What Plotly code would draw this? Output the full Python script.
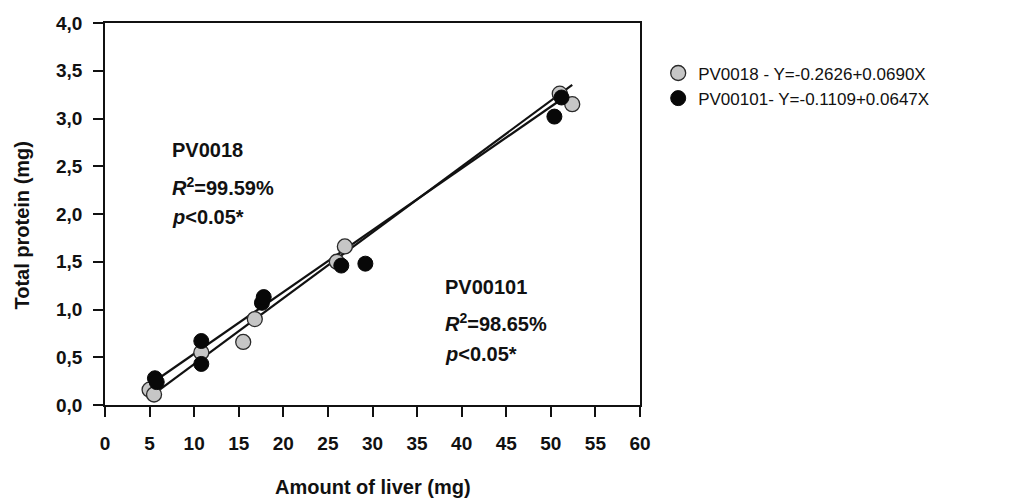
import plotly.graph_objects as go

# Liver amount (mg) vs total protein (mg) for the two strains
pv0018_liver = [5.0, 5.5, 10.8, 15.5, 16.8, 26.0, 26.9, 51.0, 52.4]
pv0018_protein = [0.16, 0.11, 0.55, 0.66, 0.90, 1.50, 1.66, 3.26, 3.15]

pv00101_liver = [5.6, 5.8, 10.8, 10.8, 17.6, 17.8, 26.5, 29.2, 50.4, 51.2]
pv00101_protein = [0.28, 0.24, 0.67, 0.43, 1.07, 1.13, 1.46, 1.48, 3.02, 3.22]

# Regression coefficients (intercept, slope)
pv0018_fit = (-0.2626, 0.0690)
pv00101_fit = (-0.1109, 0.0647)

legend_labels = ["PV0018 - Y=-0.2626+0.0690X", "PV00101- Y=-0.1109+0.0647X"]

x_ticks = list(range(0, 65, 5))
y_ticks = [0, 0.5, 1.0, 1.5, 2.0, 2.5, 3.0, 3.5, 4.0]
y_tick_labels = ["0,0", "0,5", "1,0", "1,5", "2,0", "2,5", "3,0", "3,5", "4,0"]

FONT = "Liberation Sans, Arial, sans-serif"
INK = "#111111"


def fit_line(xs, coef):
    x0, x1 = min(xs), max(xs)
    return [x0, x1], [coef[0] + coef[1] * x0, coef[0] + coef[1] * x1]


fig = go.Figure()

# fitted regression lines
for xs, coef in ((pv0018_liver, pv0018_fit), (pv00101_liver, pv00101_fit)):
    lx, ly = fit_line(xs, coef)
    fig.add_trace(go.Scatter(x=lx, y=ly, mode="lines",
                             line=dict(color=INK, width=2.2),
                             showlegend=False, hoverinfo="skip"))

fig.add_trace(go.Scatter(
    x=pv0018_liver, y=pv0018_protein, mode="markers", name=legend_labels[0],
    marker=dict(size=15, color="#c6c6c6", line=dict(color="#2a2a2a", width=1.3))))
fig.add_trace(go.Scatter(
    x=pv00101_liver, y=pv00101_protein, mode="markers", name=legend_labels[1],
    marker=dict(size=15, color="#080808", line=dict(color="#080808", width=1))))

ann_font = dict(family=FONT, size=20, color=INK)
blocks = [
    (7.3, [2.67, 2.29, 1.97], "PV0018", "99.59%"),
    (37.9, [1.24, 0.86, 0.53], "PV00101", "98.65%"),
]
for bx, ys, name, r2 in blocks:
    texts = [f"<b>{name}</b>",
             f"<b><i>R</i><sup>2</sup>={r2}</b>",
             "<b><i>p</i>&lt;0.05*</b>"]
    for ty, t in zip(ys, texts):
        fig.add_annotation(x=bx, y=ty, xref="x", yref="y", text=t,
                           showarrow=False, xanchor="left", yanchor="middle",
                           font=ann_font)

title_font = dict(family=FONT, size=20, color=INK)
fig.add_annotation(text="<b>Amount of liver (mg)</b>", xref="paper", yref="paper",
                   x=0.5, y=-0.215, xanchor="center", yanchor="middle",
                   showarrow=False, font=title_font)
fig.add_annotation(text="<b>Total protein (mg)</b>", xref="paper", yref="paper",
                   x=-0.155, y=0.47, xanchor="center", yanchor="middle", textangle=-90,
                   showarrow=False, font=title_font)

tick_font = dict(family=FONT, size=19, color=INK)
axis_common = dict(showgrid=False, zeroline=False, showline=True, linecolor=INK,
                   linewidth=1.5, mirror=True, ticks="outside", ticklen=10,
                   tickwidth=1.5, tickcolor=INK, tickfont=tick_font, tickmode="array")

fig.update_layout(
    width=1013, height=502,
    margin=dict(l=105, r=373, t=23, b=97),
    paper_bgcolor="white", plot_bgcolor="white",
    font=dict(family=FONT, color=INK),
    xaxis=dict(range=[0, 60], tickvals=x_ticks,
               ticktext=[f"<b>{v}</b>" for v in x_ticks],
               ticklabelstandoff=10, **axis_common),
    yaxis=dict(range=[0, 4], tickvals=y_ticks,
               ticktext=[f"<b>{t}</b>" for t in y_tick_labels],
               ticklabelstandoff=7, **axis_common),
    legend=dict(x=1.034, y=0.915, xanchor="left", yanchor="top",
                font=dict(family=FONT, size=17, color=INK),
                bgcolor="rgba(0,0,0,0)", tracegroupgap=0, itemwidth=30),
)

fig.write_html("out.html")
